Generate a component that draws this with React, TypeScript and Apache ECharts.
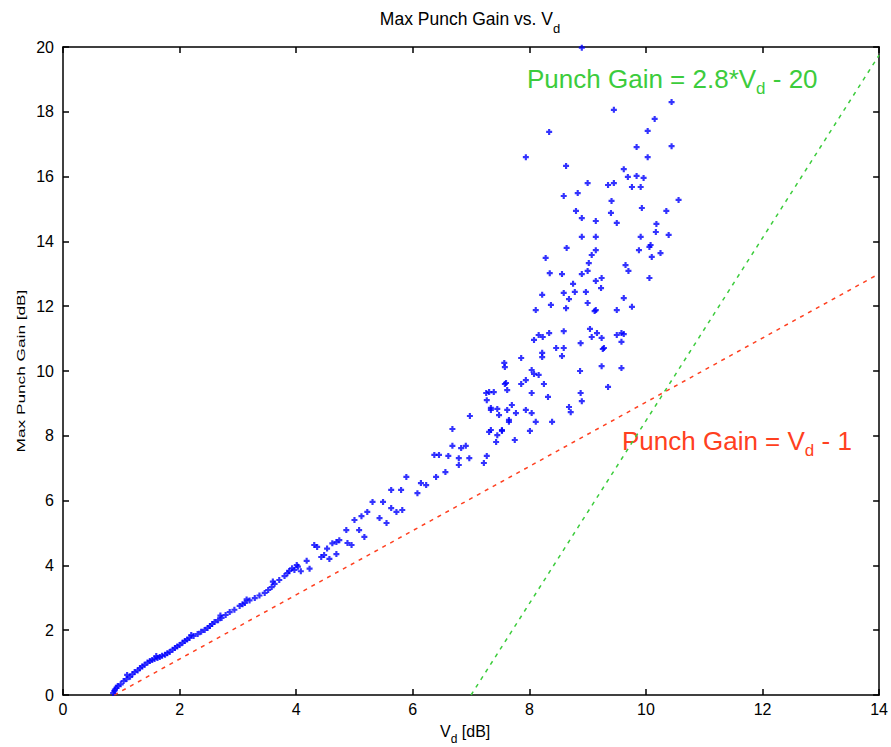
import React, { useEffect, useRef } from "react";
import * as echarts from "echarts";

// ---- data (Vd [dB], Max Punch Gain [dB]) ----
const xTicks = [0, 2, 4, 6, 8, 10, 12, 14];
const yTicks = [0, 2, 4, 6, 8, 10, 12, 14, 16, 18, 20];

const lowBand: number[][] = [
  [0.86, 0.06], [0.88, 0.12], [0.89, 0.17], [0.92, 0.22], [0.94, 0.28], [0.99, 0.33], [1.04, 0.43], [1.09, 0.49],
  [1.1, 0.62], [1.15, 0.56], [1.19, 0.64], [1.23, 0.71], [1.28, 0.76], [1.32, 0.83], [1.36, 0.88], [1.4, 0.93],
  [1.45, 1.0], [1.49, 1.05], [1.53, 1.08], [1.57, 1.11], [1.6, 1.2], [1.62, 1.14], [1.66, 1.17], [1.7, 1.21],
  [1.75, 1.24], [1.79, 1.29], [1.83, 1.33], [1.88, 1.4], [1.92, 1.45], [1.96, 1.5], [2.0, 1.54], [2.05, 1.61],
  [2.09, 1.67], [2.13, 1.71], [2.17, 1.76], [2.2, 1.85], [2.24, 1.82], [2.31, 1.88], [2.37, 1.95], [2.43, 2.01],
  [2.48, 2.07], [2.52, 2.13], [2.56, 2.19], [2.6, 2.25], [2.66, 2.31], [2.7, 2.45], [2.72, 2.38], [2.79, 2.47],
  [2.86, 2.56], [2.94, 2.63], [3.03, 2.75], [3.08, 2.8], [3.12, 2.84], [3.15, 2.95], [3.2, 2.92], [3.29, 2.99],
  [3.37, 3.07], [3.46, 3.15], [3.52, 3.24], [3.58, 3.33], [3.6, 3.5], [3.63, 3.43], [3.71, 3.55], [3.8, 3.67],
  [3.85, 3.76], [3.88, 3.83], [3.93, 3.91], [3.97, 3.86], [4.03, 3.96], [4.08, 3.82],
];

const midBand: number[][] = [
  [4.01, 4.01], [4.18, 4.14], [4.23, 3.9], [4.31, 4.63], [4.36, 4.57], [4.43, 4.26], [4.48, 4.32], [4.53, 4.52],
  [4.57, 4.2], [4.62, 4.68], [4.69, 4.35], [4.69, 4.72], [4.74, 4.78], [4.86, 5.09], [4.88, 4.69], [4.95, 4.63],
  [5.0, 5.4], [5.08, 5.09], [5.12, 5.52], [5.17, 4.88], [5.22, 5.65], [5.31, 5.96], [5.43, 5.46], [5.49, 5.96],
  [5.55, 5.31], [5.63, 5.77], [5.63, 6.33], [5.72, 5.65], [5.8, 6.33], [5.82, 5.71], [5.89, 6.73], [6.08, 6.23],
  [6.14, 6.54], [6.23, 6.48], [6.37, 7.41], [6.4, 6.73], [6.45, 7.41], [6.56, 6.88], [6.61, 7.38], [6.68, 7.69],
  [6.68, 8.21], [6.79, 7.31], [6.79, 7.1], [6.83, 7.62], [6.91, 7.69], [6.97, 7.31], [6.98, 8.61], [7.22, 7.16],
  [7.27, 7.38],
];

const upperCloud: number[][] = [
  [7.26, 9.32], [7.31, 9.35], [7.39, 9.35], [7.27, 9.1], [7.34, 8.8], [7.43, 7.81], [7.45, 8.02], [7.53, 8.18],
  [7.34, 8.18], [7.48, 8.64], [7.62, 8.8], [7.65, 8.49], [7.75, 7.87], [7.57, 10.25], [7.6, 9.63], [7.62, 9.41],
  [7.7, 8.95], [7.31, 8.12], [7.34, 8.86], [7.45, 8.83], [7.77, 8.7], [7.94, 8.8], [8.04, 8.7], [7.65, 8.43],
  [8.39, 8.43], [8.11, 8.43], [8.68, 8.89], [8.71, 8.73], [8.01, 8.15], [7.53, 8.15],
  [7.86, 10.4], [7.58, 10.12], [8.04, 10.03], [7.94, 9.72], [8.16, 9.88], [7.86, 9.6], [8.08, 9.91], [8.25, 9.6],
  [7.58, 9.6], [8.04, 9.32], [8.32, 9.2], [8.87, 10.0], [9.24, 10.15], [9.58, 10.09], [9.35, 9.51], [8.88, 9.32],
  [8.9, 9.07],
  [8.16, 11.11], [8.23, 11.05], [8.34, 11.17], [8.08, 10.96], [8.59, 11.23], [9.04, 11.3], [9.16, 11.17],
  [9.07, 11.05], [9.24, 11.02], [9.5, 11.11], [9.58, 10.9], [9.62, 11.14], [8.88, 10.86], [8.46, 10.71],
  [8.59, 10.71], [8.22, 10.56], [9.28, 10.71], [8.22, 10.43], [8.56, 10.46], [9.26, 10.68], [9.58, 11.17],
  [8.35, 13.02], [8.56, 12.99], [8.9, 12.99], [9.0, 13.09], [9.02, 13.33], [9.14, 12.78], [9.24, 12.87],
  [9.23, 12.56], [9.65, 13.27], [9.7, 13.09], [10.06, 12.87], [8.75, 12.69], [8.22, 12.35], [8.59, 12.41],
  [8.78, 12.44], [8.68, 12.22], [8.97, 12.44], [9.0, 12.1], [8.37, 12.04], [8.11, 11.88], [8.63, 11.94],
  [9.14, 11.88], [9.5, 11.88], [9.62, 12.25], [9.76, 11.98], [9.12, 11.85],
];

const topCloud: number[][] = [
  [8.9, 19.98], [9.45, 18.06], [10.44, 18.3], [10.15, 17.78], [8.34, 17.38], [10.03, 17.41], [9.84, 16.91],
  [10.44, 16.94], [7.94, 16.6], [10.03, 16.6], [8.63, 16.33], [9.62, 16.23], [9.69, 15.99], [9.84, 16.02],
  [9.96, 15.96], [9.0, 15.8], [9.35, 15.74], [9.45, 15.8], [9.76, 15.68], [9.91, 15.68], [8.59, 15.4],
  [8.83, 15.49], [9.41, 15.25], [10.56, 15.28], [8.8, 14.94], [9.4, 14.88], [9.93, 15.03], [10.35, 14.94],
  [8.9, 14.72], [9.14, 14.63], [9.5, 14.57], [10.18, 14.54], [10.17, 14.29], [8.9, 14.14], [9.14, 14.14],
  [9.91, 14.14], [10.39, 14.2], [8.64, 13.8], [8.28, 13.49], [9.14, 13.73], [9.07, 13.58], [9.88, 13.73],
  [10.08, 13.89], [10.1, 13.52], [10.25, 13.64], [10.06, 13.83],
];

const redLine: number[][] = [[0.88, 0], [14, 13]];
const greenLine: number[][] = [[7.0, 0], [14, 19.75]];

const FONT = '"Liberation Sans", Arial, Helvetica, sans-serif';
const RED = "#ff4020";
const GREEN = "#3ccc3c";
const BLUE = "#0000ff";
const PLUS = "path://M1.6,0H3.4V1.6H5V3.4H3.4V5H1.6V3.4H0V1.6H1.6Z";

let ctx2d: CanvasRenderingContext2D | null = null;
function measure(text: string, size: number): number {
  if (!ctx2d) ctx2d = document.createElement("canvas").getContext("2d");
  if (!ctx2d) return text.length * size * 0.5;
  ctx2d.font = `${size}px ${FONT}`;
  return ctx2d.measureText(text).width;
}

type Part = { t: string; s: number; y: number; gap?: number };
function runText(parts: Part[], startX: number, color: string, center = false): any[] {
  let total = 0;
  parts.forEach((p) => {
    total += (p.gap ? measure(" ", p.s) : 0) + measure(p.t, p.s);
  });
  let x = center ? startX - total / 2 : startX;
  const els: any[] = [];
  parts.forEach((p) => {
    if (p.gap) x += measure(" ", p.s);
    els.push({
      type: "text",
      x,
      y: p.y,
      silent: true,
      style: {
        text: p.t,
        fill: color,
        fontSize: p.s,
        fontFamily: FONT,
        textAlign: "left",
        textVerticalAlign: "middle",
        verticalAlign: "middle",
      },
    });
    x += measure(p.t, p.s);
  });
  return els;
}

export default function App() {
  const ref = useRef<HTMLDivElement>(null);
  useEffect(() => {
    if (!ref.current) return;
    const chart = echarts.init(ref.current, undefined, { renderer: "svg" });
    const axisLine = { onZero: false, lineStyle: { color: "#000", width: 1.5 } };
    const axisTick = { inside: true, length: 6, lineStyle: { color: "#000", width: 1.5 } };
    const graphics = [
      ...runText(
        [
          { t: "Max Punch Gain vs. V", s: 17.5, y: 19 },
          { t: "d", s: 13, y: 28 },
        ],
        470,
        "#000",
        true
      ),
      ...runText(
        [
          { t: "Punch Gain = 2.8*V", s: 26, y: 79 },
          { t: "d", s: 17, y: 88 },
          { t: "- 20", s: 26, y: 79, gap: 1 },
        ],
        527,
        GREEN
      ),
      ...runText(
        [
          { t: "Punch Gain = V", s: 26, y: 441 },
          { t: "d", s: 17, y: 450 },
          { t: "- 1", s: 26, y: 441, gap: 1 },
        ],
        622,
        RED
      ),
      ...runText(
        [
          { t: "V", s: 16, y: 731 },
          { t: "d", s: 12, y: 739 },
          { t: "[dB]", s: 16, y: 731, gap: 1 },
        ],
        440,
        "#000"
      ),
      {
        type: "text",
        x: 21,
        y: 371,
        rotation: Math.PI / 2,
        scaleX: 1.5,
        silent: true,
        style: {
          text: "Max Punch Gain [dB]",
          fill: "#000",
          fontSize: 11.5,
          fontFamily: FONT,
          textAlign: "center",
          textVerticalAlign: "middle",
          verticalAlign: "middle",
        },
      },
    ];
    chart.setOption({
      animation: false,
      backgroundColor: "#fff",
      grid: { left: 63, right: 10, top: 47, bottom: 52, containLabel: false },
      xAxis: [
        {
          type: "value",
          min: xTicks[0],
          max: xTicks[xTicks.length - 1],
          interval: 2,
          position: "bottom",
          axisLine,
          axisTick,
          axisLabel: { fontSize: 16, color: "#000", fontFamily: FONT, margin: 6 },
          splitLine: { show: false },
        },
        {
          type: "value",
          min: xTicks[0],
          max: xTicks[xTicks.length - 1],
          interval: 2,
          position: "top",
          axisLine,
          axisTick,
          axisLabel: { show: false },
          splitLine: { show: false },
        },
      ],
      yAxis: [
        {
          type: "value",
          min: yTicks[0],
          max: yTicks[yTicks.length - 1],
          interval: 2,
          position: "left",
          axisLine,
          axisTick,
          axisLabel: { fontSize: 16, color: "#000", fontFamily: FONT, margin: 9 },
          splitLine: { show: false },
        },
        {
          type: "value",
          min: yTicks[0],
          max: yTicks[yTicks.length - 1],
          interval: 2,
          position: "right",
          axisLine,
          axisTick,
          axisLabel: { show: false },
          splitLine: { show: false },
        },
      ],
      series: [
        {
          type: "line",
          data: redLine,
          symbol: "none",
          lineStyle: { color: RED, width: 1.5, type: [4, 5] },
          z: 2,
        },
        {
          type: "line",
          data: greenLine,
          symbol: "none",
          lineStyle: { color: GREEN, width: 1.5, type: [4, 5] },
          z: 2,
        },
        {
          type: "scatter",
          data: [...lowBand, ...midBand, ...upperCloud, ...topCloud],
          symbol: PLUS,
          symbolSize: 6,
          itemStyle: { color: BLUE },
          z: 3,
        },
      ],
      graphic: graphics,
    });
    return () => chart.dispose();
  }, []);
  return <div ref={ref} style={{ position: "absolute", left: 0, top: 0, width: 891, height: 747 }} />;
}
